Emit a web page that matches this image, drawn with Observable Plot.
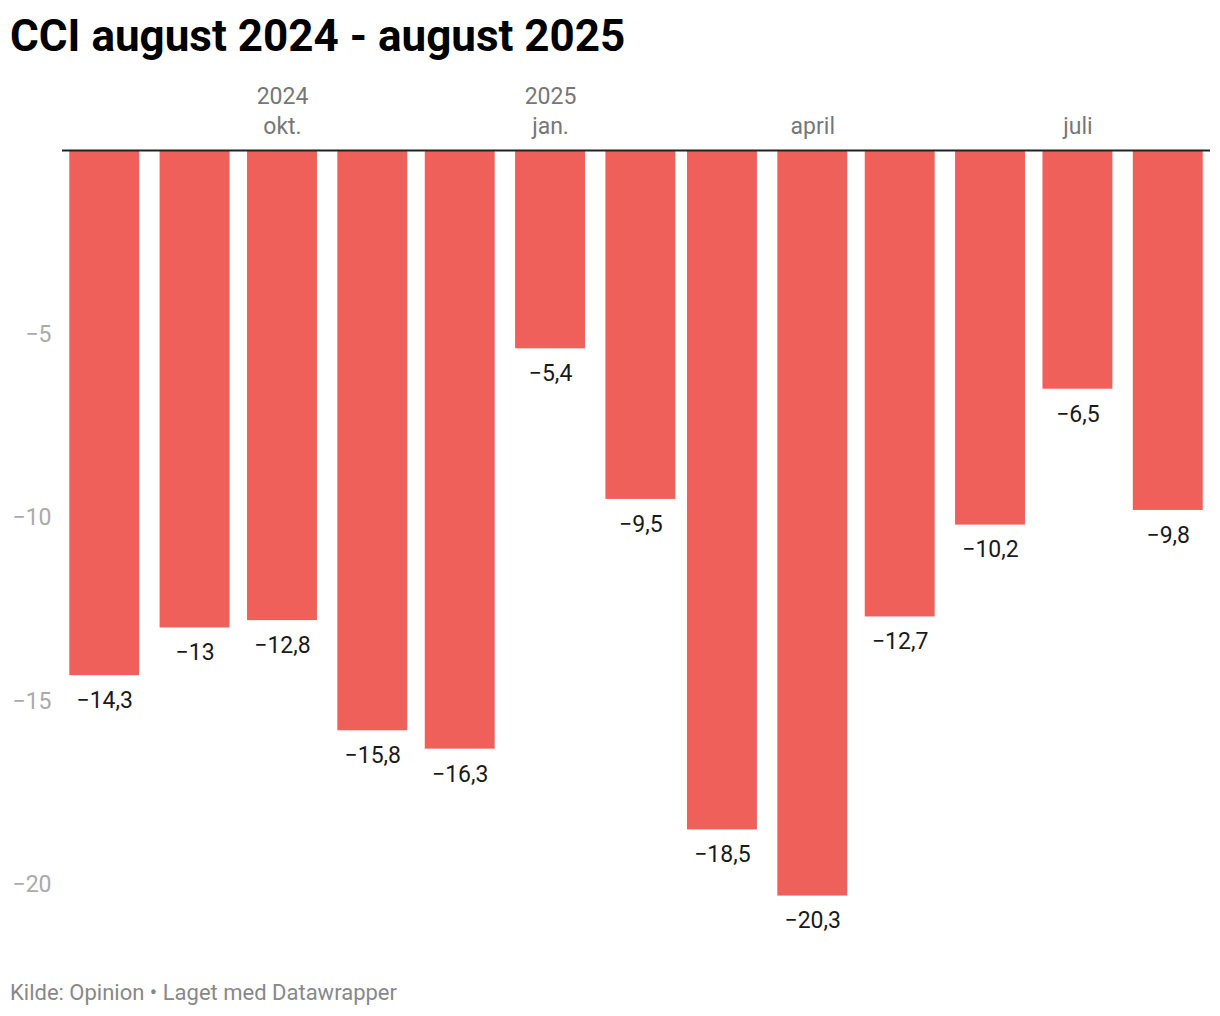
<!DOCTYPE html>
<html>
<head>
<meta charset="utf-8">
<script src="https://cdn.jsdelivr.net/npm/d3@7"></script>
<script src="https://cdn.jsdelivr.net/npm/@observablehq/plot@0.6"></script>
<style>
  html, body { margin: 0; padding: 0; background: #fff; }
  body { width: 1220px; height: 1016px; font-family: Roboto, sans-serif; position: relative; overflow: hidden; }
  #title { position: absolute; left: 10px; top: 10px; font-size: 44px; line-height: 52px; font-weight: 700; color: #000; white-space: nowrap; }
  #chart { position: absolute; left: 0; top: 70px; }
  #caption { position: absolute; left: 10px; top: 979px; font-size: 22px; line-height: 28px; color: #888; white-space: nowrap; }
</style>
</head>
<body>
<div id="title">CCI august 2024 - august 2025</div>
<div id="chart"></div>
<div id="caption">Kilde: Opinion • Laget med Datawrapper</div>
<script>
const months = ["2024-08-01","2024-09-01","2024-10-01","2024-11-01","2024-12-01","2025-01-01","2025-02-01","2025-03-01","2025-04-01","2025-05-01","2025-06-01","2025-07-01","2025-08-01"];
const values = [-14.3, -13, -12.8, -15.8, -16.3, -5.4, -9.5, -18.5, -20.3, -12.7, -10.2, -6.5, -9.8];
const xTicks = ["2024-10-01","2025-01-01","2025-04-01","2025-07-01"];
const xTickLabels = ["2024\nokt.","2025\njan.","april","juli"];
const yTicks = [-5, -10, -15, -20];

const data = months.map((m, i) => ({date: new Date(m + "T00:00:00Z"), value: values[i]}));
const tickDates = xTicks.map(t => new Date(t + "T00:00:00Z"));
const tickLabelMap = new Map(tickDates.map((d, i) => [+d, xTickLabels[i]]));
const fmt = v => String(v).replace(".", ",").replace("-", "\u2212");

const chart = Plot.plot({
  width: 1220,
  height: 888,
  marginTop: 80,
  marginLeft: 62,
  marginRight: 10,
  marginBottom: 0,
  style: {fontFamily: "Roboto, sans-serif", fontSize: "23px", background: "#fff"},
  x: {type: "utc", domain: [new Date("2024-07-17T12:00:00Z"), new Date("2025-08-15T12:00:00Z")]},
  y: {domain: [-22, 0]},
  marks: [
    Plot.axisX({anchor: "top", ticks: tickDates, tickSize: 0, tickPadding: 17, lineHeight: 1.3, tickFormat: d => tickLabelMap.get(+d), fill: "#777", fontSize: 23, label: null}),
    Plot.axisY({ticks: yTicks, tickSize: 0, tickPadding: 11, tickFormat: fmt, fill: "#aaa", fontSize: 23, label: null}),
    Plot.rectY(data, {
      x1: d => d3.utcHour.offset(d.date, -12 * 24),
      x2: d => d3.utcHour.offset(d.date, 12 * 24),
      y1: 0, y2: "value", fill: "#f0605a"
    }),
    Plot.text(data, {x: "date", y: "value", text: d => fmt(d.value), dy: 25, fill: "#1a1a1a", fontSize: 23}),
    Plot.ruleY([0], {stroke: "#222", strokeWidth: 2})
  ]
});
document.getElementById("chart").appendChild(chart);
</script>
</body>
</html>
